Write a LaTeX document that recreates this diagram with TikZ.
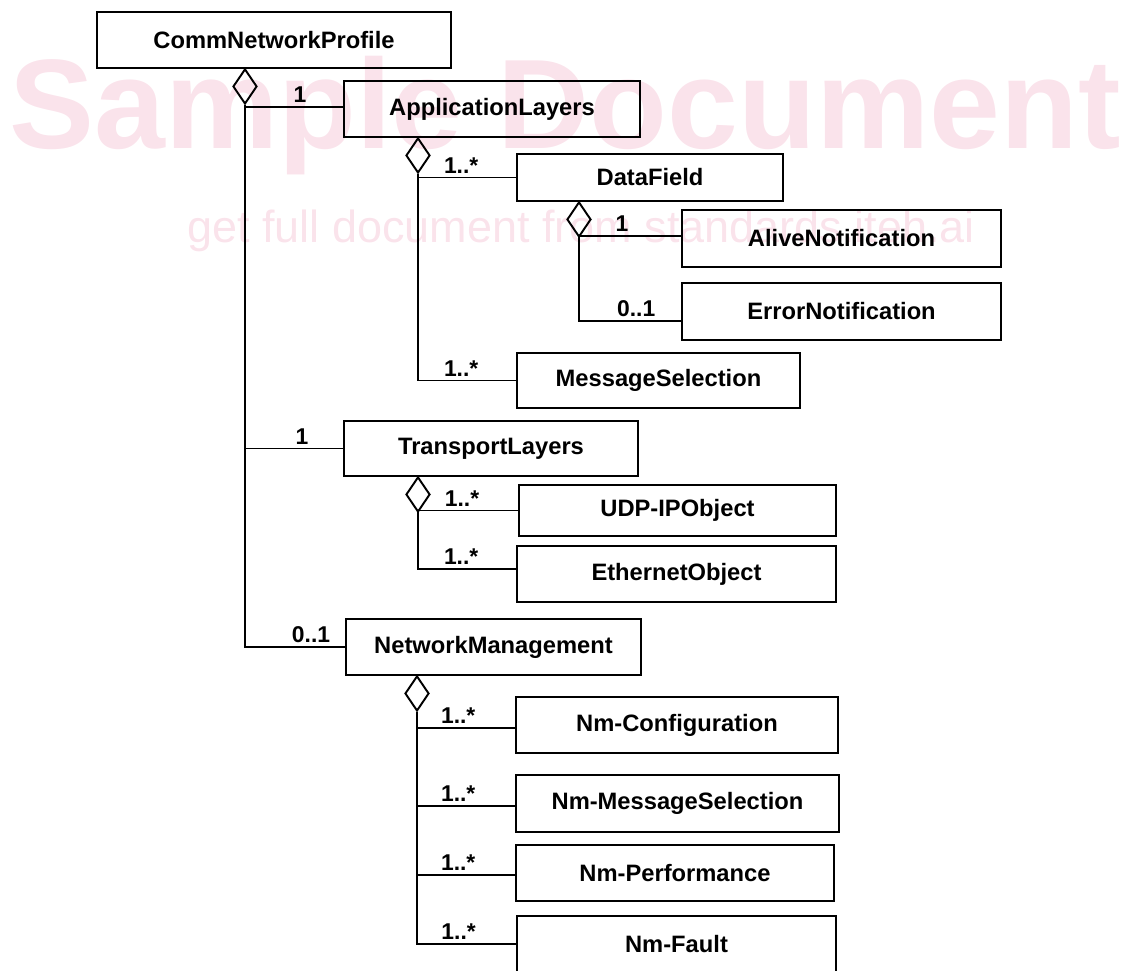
\documentclass[tikz,border=0pt]{standalone}
\usepackage{fontspec}
\setmainfont{Liberation Sans}
\usepackage{tikz}
\usetikzlibrary{positioning,shapes.geometric}
\definecolor{wmpink}{RGB}{250,227,235}

\begin{document}
\begin{tikzpicture}[
            x=0.02cm, y=-0.02cm,
            block/.style={rectangle, draw, line width=1.1pt, minimum height=1.12cm, inner sep=0pt, font=\fontsize{13.5}{16}\selectfont\bfseries},
            agg/.style={diamond, draw, line width=1.1pt, minimum width=0.48cm, minimum height=0.70cm, inner sep=0pt, anchor=north},
            link/.style={line width=1.1pt},
            mult/.style={above, inner sep=2pt, font=\fontsize{13}{15}\selectfont\bfseries},
            watermark/.style={text=wmpink, anchor=base west, inner sep=0pt}
        ]
        \useasboundingbox (0,0) rectangle (1128,970);
        % watermark
        \node[watermark, font=\fontsize{72.5}{80}\selectfont\bfseries] (wmTitle) at (9,148) {Sample Document};
        \node[watermark, font=\fontsize{25.6}{30}\selectfont] (wmLine) at (187,242) {get full document from standards.iteh.ai};
        % classes
        \node[block, minimum width=7.08cm] (profile) at (274,40) {CommNetworkProfile};
        \node[block, minimum width=5.92cm] (appl) at (492,109) {ApplicationLayers};
        \node[block, minimum width=5.32cm, minimum height=0.94cm] (dataField) at (650,177.5) {DataField};
        \node[block, minimum width=6.38cm, minimum height=1.14cm] (alive) at (841.5,238.5) {AliveNotification};
        \node[block, minimum width=6.38cm, minimum height=1.14cm] (error) at (841.5,311.5) {ErrorNotification};
        \node[block, minimum width=5.66cm, minimum height=1.10cm] (msgSel) at (658.5,380.5) {MessageSelection};
        \node[block, minimum width=5.88cm, minimum height=1.10cm] (transport) at (491,448.5) {TransportLayers};
        \node[block, minimum width=6.34cm, minimum height=1.02cm] (udp) at (677.5,510.5) {UDP-IPObject};
        \node[block, minimum width=6.38cm] (ethernet) at (676.5,574) {EthernetObject};
        \node[block, minimum width=5.90cm] (netMgmt) at (493.5,647) {NetworkManagement};
        \node[block, minimum width=6.44cm] (nmConfig) at (677,725) {Nm-Configuration};
        \node[block, minimum width=6.46cm, minimum height=1.14cm] (nmMsgSel) at (677.5,803.5) {Nm-MessageSelection};
        \node[block, minimum width=6.36cm] (nmPerf) at (675,873) {Nm-Performance};
        \node[block, minimum width=6.38cm] (nmFault) at (676.5,944) {Nm-Fault};
        % aggregation diamonds
        \node[agg] (aggProfile) at (245,68) {};
        \node[agg] (aggAppl) at (418,137) {};
        \node[agg] (aggData) at (579,201) {};
        \node[agg] (aggTrans) at (418,476) {};
        \node[agg] (aggNm) at (417,675) {};
        % CommNetworkProfile parts
        \draw[link] (aggProfile.south) |- node[mult, pos=.78] {1} ([yshift=0.04cm]appl.west);
        \draw[link] (aggProfile.south) |- node[mult, pos=.79] {1} (transport.west);
        \draw[link] (aggProfile.south) |- node[mult, pos=.83] {0..1} (netMgmt.west);
        % ApplicationLayers parts
        \draw[link] (aggAppl.south) |- node[mult, pos=.72] {1..*} (dataField.west);
        \draw[link] (aggAppl.south) |- node[mult, pos=.72] {1..*} (msgSel.west);
        \draw[link] (aggData.south) |- node[mult, pos=.71] {1} ([yshift=0.05cm]alive.west);
        \draw[link] (aggData.south) |- node[mult, pos=.78] {0..1} ([yshift=-0.19cm]error.west);
        % TransportLayers parts
        \draw[link] (aggTrans.south) |- node[mult, pos=.72] {1..*} (udp.west);
        \draw[link] (aggTrans.south) |- node[mult, pos=.72] {1..*} ([yshift=0.1cm]ethernet.west);
        % NetworkManagement parts
        \draw[link] (aggNm.south) |- node[mult, pos=.71] {1..*} ([yshift=-0.06cm]nmConfig.west);
        \draw[link] (aggNm.south) |- node[mult, pos=.71] {1..*} ([yshift=-0.05cm]nmMsgSel.west);
        \draw[link] (aggNm.south) |- node[mult, pos=.71] {1..*} ([yshift=-0.04cm]nmPerf.west);
        \draw[link] (aggNm.south) |- node[mult, pos=.71] {1..*} (nmFault.west);
\end{tikzpicture}
\end{document}
